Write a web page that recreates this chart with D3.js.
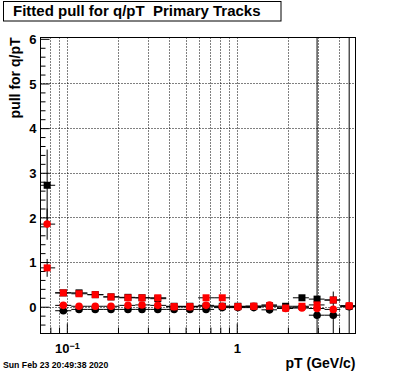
<!DOCTYPE html>
<html>
<head>
<meta charset="utf-8">
<script src="https://cdn.jsdelivr.net/npm/d3@7"></script>
<style>
  html, body { margin: 0; padding: 0; background: #ffffff; }
  svg { display: block; }
  text { font-family: "Liberation Sans", Arial, Helvetica, sans-serif; font-weight: bold; fill: #000; }
</style>
</head>
<body>
<script>
// ---------------- data ----------------
const titleText = "Fitted pull for q/pT  Primary Tracks";
const xTitle = "pT (GeV/c)";
const yTitle = "pull for q/pT";
const dateText = "Sun Feb 23 20:49:38 2020";

const pT      = [0.0766, 0.0954, 0.118, 0.147, 0.182, 0.229, 0.277, 0.343, 0.428, 0.530, 0.660, 0.822, 1.016, 1.26, 1.56, 1.94, 2.42, 2.97, 3.70, 4.59];
const binLow  = [0.0689, 0.0854, 0.1063, 0.1322, 0.1641, 0.2037, 0.2529, 0.3097, 0.3846, 0.4776, 0.5929, 0.7359, 0.9136, 1.126, 1.398, 1.725, 2.141, 2.658, 3.287, 4.070];
const binHigh = [0.0854, 0.1063, 0.1322, 0.1641, 0.2037, 0.2529, 0.3097, 0.3846, 0.4776, 0.5929, 0.7359, 0.9136, 1.126, 1.398, 1.725, 2.141, 2.658, 3.287, 4.070, 5.04];

const blackSquare    = [2.72, 0.31, 0.31, 0.27, 0.22, 0.21, 0.20, 0.18, 0.01, 0.01, 0.01, 0.01, 0.01, 0.01, 0.02, 0.01, 0.20, 0.17, 0.15, 0.01];
const blackSquareErr = [0.80, 0.03, 0.03, 0.03, 0.03, 0.03, 0.03, 0.03, 0.03, 0.03, 0.03, 0.03, 0.03, 0.03, 0.03, 0.03, 0.04, 0.05, 0.05, 0.05];
const redSquare      = [0.87, 0.31, 0.29, 0.27, 0.22, 0.20, 0.20, 0.20, 0.00, 0.00, 0.20, 0.20, 0.00, 0.01, 0.01, -0.03, 0.01, 0.04, 0.15, 0.02];
const redSquareErr   = [0.20, 0.03, 0.03, 0.03, 0.03, 0.03, 0.03, 0.03, 0.03, 0.03, 0.03, 0.03, 0.03, 0.03, 0.03, 0.03, 0.04, 0.05, 0.05, 0.05];
const blackCircle    = [null, -0.09, -0.06, -0.06, -0.06, -0.06, -0.06, -0.06, -0.06, -0.06, -0.06, -0.02, -0.02, -0.02, -0.07, -0.03, -0.01, -0.19, -0.19, 0.00];
const blackCircleErr = [0, 0.03, 0.03, 0.03, 0.03, 0.03, 0.03, 0.03, 0.03, 0.03, 0.03, 0.03, 0.03, 0.03, 0.03, 0.03, 0.04, 9.0, 0.53, 9.0];
const redCircle      = [1.85, 0.03, 0.01, 0.01, 0.01, 0.03, 0.04, 0.03, 0.00, 0.00, 0.03, 0.01, 0.00, 0.01, 0.04, -0.04, -0.03, -0.04, -0.06, 0.02];
const redCircleErr   = [0.35, 0.03, 0.03, 0.03, 0.03, 0.03, 0.03, 0.03, 0.03, 0.03, 0.03, 0.03, 0.03, 0.03, 0.03, 0.03, 0.04, 0.05, 0.05, 0.05];

const xMajorTicks = [0.1, 1];
const xMinorTicks = [0.08, 0.09, 0.2, 0.3, 0.4, 0.5, 0.6, 0.7, 0.8, 0.9, 2, 3, 4];
const yMajorTicks = [0, 1, 2, 3, 4, 5, 6];
const yMinorTicks = [-0.4, -0.2, 0.2, 0.4, 0.6, 0.8, 1.2, 1.4, 1.6, 1.8, 2.2, 2.4, 2.6, 2.8, 3.2, 3.4, 3.6, 3.8, 4.2, 4.4, 4.6, 4.8, 5.2, 5.4, 5.6, 5.8];
const xDomain = [0.07, 5];
const yDomain = [-0.6, 6.03];

// ---------------- chart ----------------
const W = 396, H = 372;
const L = 40.5, R = 355.5, T = 37.5, B = 333.5;

const svg = d3.select("body").append("svg").attr("width", W).attr("height", H);
svg.append("rect").attr("width", W).attr("height", H).attr("fill", "#fff");

const x = d3.scaleLog().domain(xDomain).range([L, R]);
const y = d3.scaleLinear().domain(yDomain).range([B, T]);

svg.append("defs").append("clipPath").attr("id", "frame")
  .append("rect").attr("x", L).attr("y", T).attr("width", R - L).attr("height", B - T);

// grid
const grid = svg.append("g").attr("stroke", "#000").attr("stroke-width", 1).attr("stroke-dasharray", "1,2");
grid.selectAll("line.vx").data(xMajorTicks.concat(xMinorTicks)).join("line")
  .attr("x1", d => Math.round(x(d)) + 0.5).attr("x2", d => Math.round(x(d)) + 0.5)
  .attr("y1", T).attr("y2", B);
grid.selectAll("line.hy").data(yMajorTicks.filter(d => d < 6)).join("line")
  .attr("y1", d => Math.round(y(d)) + 0.5).attr("y2", d => Math.round(y(d)) + 0.5)
  .attr("x1", L).attr("x2", R);

// axes (ticks inward)
const yAxisMajor = d3.axisLeft(y).tickValues(yMajorTicks).tickSize(-9).tickPadding(4).tickFormat(d3.format("d"));
const yAxisMinor = d3.axisLeft(y).tickValues(yMinorTicks).tickSize(-5).tickFormat("");
const xAxisMajor = d3.axisBottom(x).tickValues(xMajorTicks).tickSize(-10).tickPadding(8).tickFormat(d => d === 1 ? "1" : "10");
const xAxisMinor = d3.axisBottom(x).tickValues(xMinorTicks).tickSize(-6).tickFormat("");

function styleAxis(g) {
  g.select(".domain").remove();
  g.selectAll("line").attr("stroke", "#000").attr("stroke-width", 1);
  g.selectAll("text").attr("font-family", null).attr("font-size", 13).attr("fill", "#000");
}
svg.append("g").attr("transform", `translate(${L},0)`).call(yAxisMajor).call(styleAxis)
  .selectAll("text").attr("dy", "0.36em");
svg.append("g").attr("transform", `translate(${L},0)`).call(yAxisMinor).call(styleAxis);
const xg = svg.append("g").attr("transform", `translate(0,${B})`).call(xAxisMajor).call(styleAxis);
svg.append("g").attr("transform", `translate(0,${B})`).call(xAxisMinor).call(styleAxis);
xg.selectAll(".tick text").attr("dy", "0.9em").each(function(d) {
  if (d !== 1) {
    d3.select(this).append("tspan").attr("dy", "-0.45em").attr("font-size", 9).text("\u22121");
  }
});

// frame
svg.append("rect").attr("x", L).attr("y", T).attr("width", R - L).attr("height", B - T)
  .attr("fill", "none").attr("stroke", "#000").attr("stroke-width", 1);

// data
const plot = svg.append("g").attr("clip-path", "url(#frame)");
const series = [
  { vals: blackCircle, errs: blackCircleErr, color: "#000", shape: "circle" },
  { vals: blackSquare, errs: blackSquareErr, color: "#000", shape: "square" },
  { vals: redSquare,   errs: redSquareErr,   color: "#ff0000", shape: "square" },
  { vals: redCircle,   errs: redCircleErr,   color: "#ff0000", shape: "circle" }
];
series.forEach(s => {
  const pts = pT.map((p, i) => ({ p, v: s.vals[i], e: s.errs[i], lo: binLow[i], hi: binHigh[i] }))
    .filter(d => d.v !== null);
  const g = plot.append("g");
  g.selectAll("line.ex").data(pts).join("line")
    .attr("x1", d => x(d.lo)).attr("x2", d => x(d.hi))
    .attr("y1", d => y(d.v)).attr("y2", d => y(d.v))
    .attr("stroke", "#000").attr("stroke-width", 1);
  g.selectAll("line.ey").data(pts).join("line")
    .attr("x1", d => x(d.p)).attr("x2", d => x(d.p))
    .attr("y1", d => y(d.v - d.e)).attr("y2", d => y(d.v + d.e))
    .attr("stroke", "#000").attr("stroke-width", 1);
  if (s.shape === "square") {
    g.selectAll("rect").data(pts).join("rect")
      .attr("x", d => x(d.p) - 3.5).attr("y", d => y(d.v) - 3.5)
      .attr("width", 7).attr("height", 7).attr("fill", s.color);
  } else {
    g.selectAll("circle").data(pts).join("circle")
      .attr("cx", d => x(d.p)).attr("cy", d => y(d.v)).attr("r", 3.8).attr("fill", s.color);
  }
});

// titles
svg.append("rect").attr("x", 3.5).attr("y", 1.5).attr("width", 277.5).attr("height", 19.5)
  .attr("fill", "#fff").attr("stroke", "#000").attr("stroke-width", 1);
svg.append("text").attr("x", 13).attr("y", 15.5).attr("font-size", 15)
  .style("white-space", "pre").text(titleText);

svg.append("text").attr("text-anchor", "end").attr("font-size", 14)
  .attr("transform", `translate(19.5,${T}) rotate(-90)`).text(yTitle);

svg.append("text").attr("text-anchor", "end").attr("x", R).attr("y", 367.5).attr("font-size", 14).text(xTitle);

svg.append("text").attr("x", 3).attr("y", 368).attr("font-size", 8.7).text(dateText);
</script>
</body>
</html>
